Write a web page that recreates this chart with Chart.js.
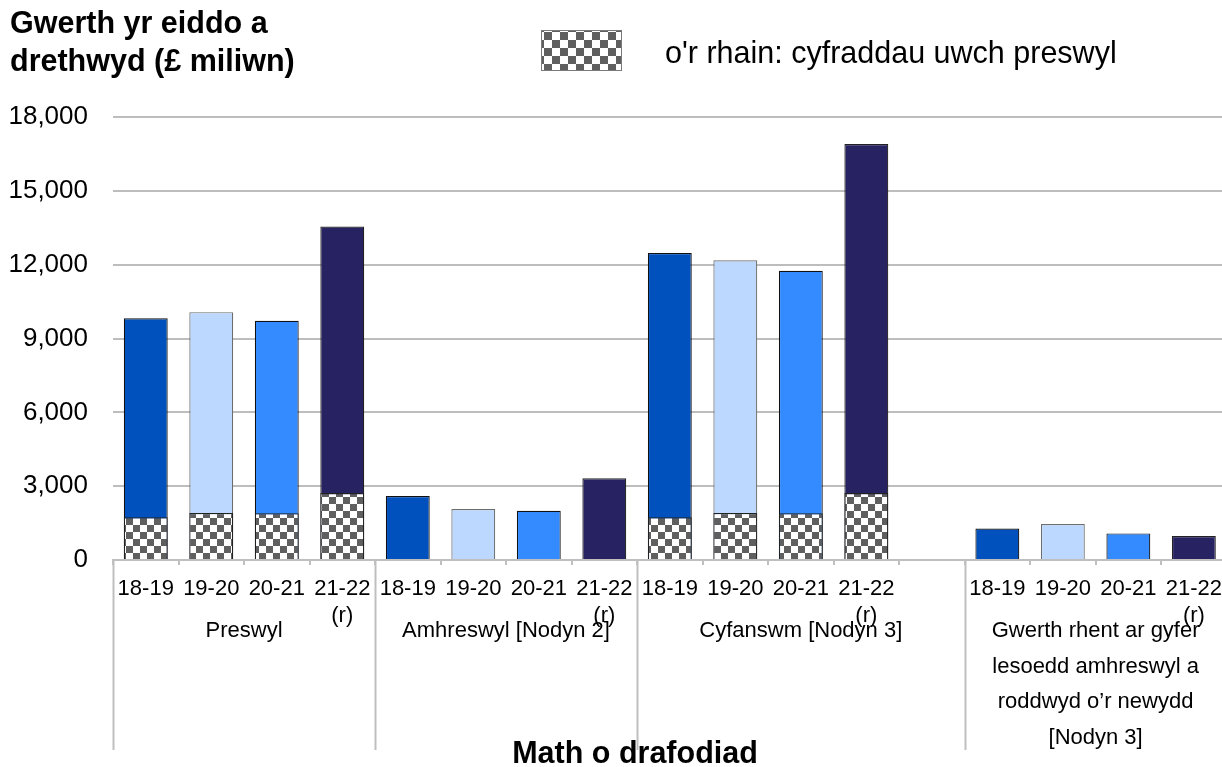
<!DOCTYPE html>
<html>
<head>
<meta charset="utf-8">
<script src="https://cdn.jsdelivr.net/npm/chart.js@4/dist/chart.umd.min.js"></script>
<style>
  html, body { margin: 0; padding: 0; overflow: hidden; background: #fff; }
  #wrap { width: 1232px; height: 767px; }
</style>
</head>
<body>
<div id="wrap"><canvas id="c" width="1232" height="767"></canvas></div>
<script>
// ---- data ----
const yearLabels = ['18-19', '19-20', '20-21', ['21-22', '(r)']];
const groupNames = [
  'Preswyl',
  'Amhreswyl [Nodyn 2]',
  'Cyfanswm [Nodyn 3]',
  ['Gwerth rhent ar gyfer', 'lesoedd amhreswyl a', 'roddwyd o’r newydd', '[Nodyn 3]']
];
const preswyl     = [9820, 10070, 9720, 13550];
const amhreswyl   = [2600, 2070, 2000, 3320];
const cyfanswm    = [12470, 12180, 11750, 16900];
const gwerthRhent = [1280, 1460, 1080, 975];
const higherRates = [1740, 1910, 1900, 2720];   // o'r rhain: cyfraddau uwch preswyl
const yTicks = [0, 3000, 6000, 9000, 12000, 15000, 18000];
const yAxisTitle = ['Gwerth yr eiddo a', 'drethwyd (£ miliwn)'];
const xAxisTitle = 'Math o drafodiad';
const legendText = "o'r rhain: cyfraddau uwch preswyl";

// ---- build slots (one blank slot after Cyfanswm) ----
const gap = [null];
const labels = [...yearLabels, ...yearLabels, ...yearLabels, '', ...yearLabels];
const totals = [...preswyl, ...amhreswyl, ...cyfanswm, ...gap, ...gwerthRhent];
const noneFour = [null, null, null, null];
const checker = [...higherRates, ...noneFour, ...higherRates, ...gap, ...noneFour];
// group spans in slot indices [start, end)
const groupSpans = [[0, 4], [4, 8], [8, 13], [13, 17]];

const yearColors  = ['#0050BE', '#BDD8FE', '#338BFF', '#272262'];
const yearBorders = ['#111111', '#6e6e6e', '#111111', '#222222'];
const barColors = labels.map((l, i) => yearColors[(i < 12 ? i : i - 1) % 4]);
const barBorders = labels.map((l, i) => yearBorders[(i < 12 ? i : i - 1) % 4]);

function makePattern(sz) {
  const c = document.createElement('canvas');
  c.width = sz * 2; c.height = sz * 2;
  const g = c.getContext('2d');
  g.fillStyle = '#ffffff'; g.fillRect(0, 0, sz * 2, sz * 2);
  g.fillStyle = '#5f5f5f';
  g.fillRect(0, 0, sz, sz); g.fillRect(sz, sz, sz, sz);
  return g.createPattern(c, 'repeat');
}
const barPattern = makePattern(7);
const legendPattern = makePattern(8);

const FONT = "'Liberation Sans', Arial, sans-serif";
Chart.defaults.font.family = FONT;
Chart.defaults.color = '#000';

const extras = {
  id: 'extras',
  afterDraw(chart) {
    const ctx = chart.ctx;
    const x = chart.scales.x;
    const sw = x.getPixelForValue(1) - x.getPixelForValue(0);
    const edge = i => x.getPixelForValue(i) - sw / 2;
    const base = chart.chartArea.bottom;
    ctx.save();
    // separators
    ctx.strokeStyle = '#bfbfbf';
    ctx.lineWidth = 2;
    [0, 4, 8, 13, 17].forEach(i => {
      const px = Math.round(edge(i)) + 0.5;
      ctx.beginPath(); ctx.moveTo(px, base); ctx.lineTo(px, 750); ctx.stroke();
    });
    // group labels
    ctx.fillStyle = '#000';
    ctx.font = '22px ' + FONT;
    ctx.textAlign = 'center';
    ctx.textBaseline = 'middle';
    groupSpans.forEach((s, gi) => {
      const cx = (edge(s[0]) + edge(s[1])) / 2;
      const lines = Array.isArray(groupNames[gi]) ? groupNames[gi] : [groupNames[gi]];
      lines.forEach((t, li) => ctx.fillText(t, cx, 631 + li * 35.7));
    });
    // x axis title
    ctx.font = 'bold 30.5px ' + FONT;
    ctx.fillText(xAxisTitle, 635, 755);
    // y axis title
    ctx.textAlign = 'left';
    yAxisTitle.forEach((t, i) => ctx.fillText(t, 10, 25 + i * 38));
    // legend
    ctx.fillStyle = legendPattern;
    ctx.fillRect(541, 30, 80, 40);
    ctx.strokeStyle = '#7a7a7a'; ctx.lineWidth = 1;
    ctx.strokeRect(541.5, 30.5, 80, 40);
    ctx.fillStyle = '#000';
    ctx.font = '30.5px ' + FONT;
    ctx.fillText(legendText, 665, 55);
    ctx.restore();
  }
};

new Chart(document.getElementById('c'), {
  type: 'bar',
  data: {
    labels: labels,
    datasets: [
      {
        label: legendText,
        data: checker,
        backgroundColor: barPattern,
        borderColor: '#222222',
        borderWidth: 1.2,
        grouped: false,
        order: 0,
        categoryPercentage: 1,
        barPercentage: 0.67
      },
      {
        label: 'Cyfanswm',
        data: totals,
        backgroundColor: barColors,
        borderColor: barBorders,
        borderWidth: 1.2,
        grouped: false,
        order: 1,
        categoryPercentage: 1,
        barPercentage: 0.67
      }
    ]
  },
  options: {
    responsive: false,
    animation: false,
    layout: { padding: { top: 117, right: 0, left: 0, bottom: 0 } },
    plugins: { legend: { display: false }, tooltip: { enabled: false }, title: { display: false } },
    scales: {
      x: {
        offset: true,
        grid: { display: true, drawOnChartArea: false, drawTicks: true, tickLength: 5, color: '#bfbfbf', lineWidth: 2 },
        border: { display: true, color: '#bfbfbf', width: 2 },
        ticks: { font: { size: 22, lineHeight: 1.23 }, padding: 10, maxRotation: 0, autoSkip: false, color: '#000' },
        afterFit(s) { s.height = 207; }
      },
      y: {
        min: 0, max: 18000,
        afterBuildTicks(s) { s.ticks = yTicks.map(v => ({ value: v })); },
        grid: { color: '#bdbdbd', lineWidth: 2, drawTicks: false },
        border: { display: false },
        ticks: { font: { size: 26 }, padding: 25, color: '#000',
                 callback: v => v.toLocaleString('en-US') },
        afterFit(s) { s.width = 113; }
      }
    }
  },
  plugins: [extras]
});
</script>
</body>
</html>
